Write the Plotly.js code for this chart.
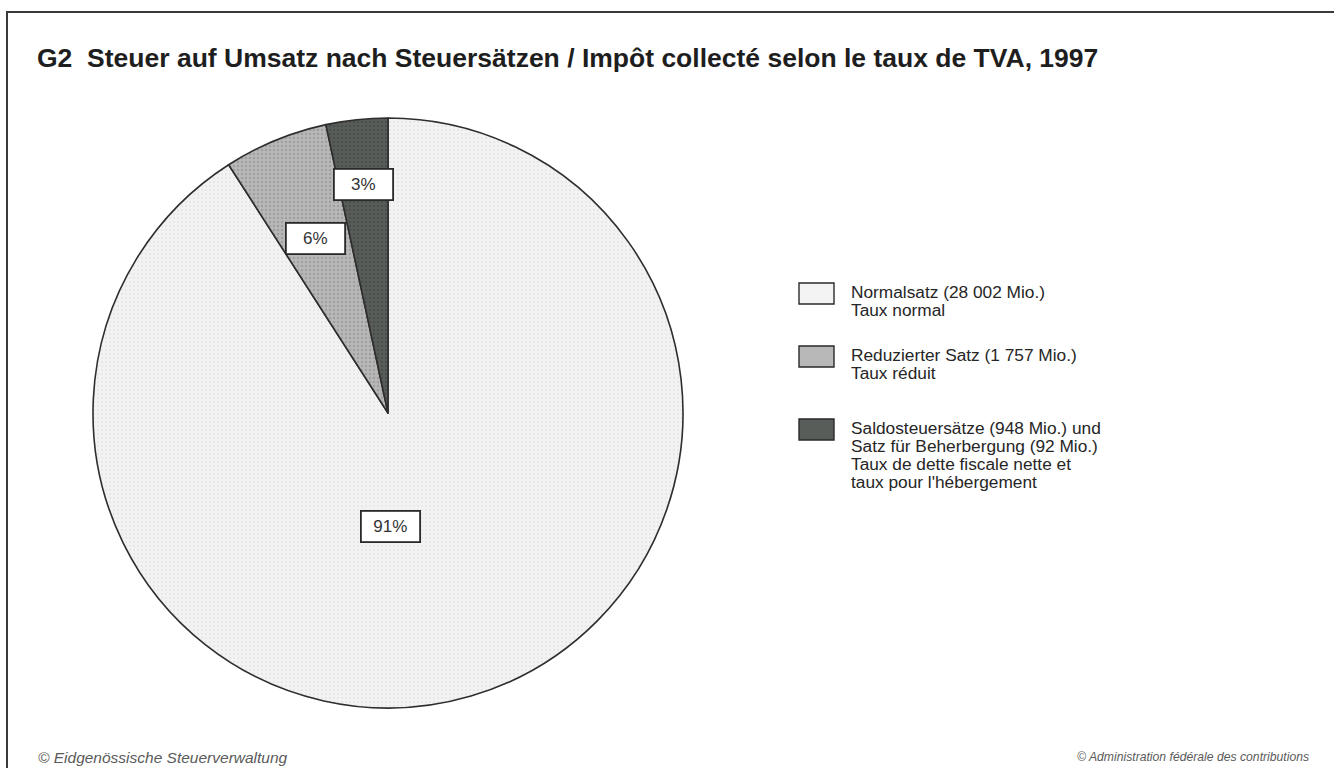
<!DOCTYPE html>
<html>
<head>
<meta charset="utf-8">
<script src="https://cdn.plot.ly/plotly-3.0.1.min.js"></script>
<style>
html,body{margin:0;padding:0;background:#ffffff;}
#chart{width:1334px;height:768px;}
</style>
</head>
<body>
<div id="chart"></div>
<script>
// ---- data ----
const legendLines = [
  ["Normalsatz (28 002 Mio.)", "Taux normal"],
  ["Reduzierter Satz (1 757 Mio.)", "Taux réduit"],
  ["Saldosteuersätze (948 Mio.) und", "Satz für Beherbergung (92 Mio.)", "Taux de dette fiscale nette et", "taux pour l'hébergement"]
];
const normalRate = 28002;
const reducedRate = 1757;
const saldoParts = [948, 92];
const values = [normalRate, reducedRate, saldoParts[0] + saldoParts[1]];
const sliceNames = ["Normalsatz / Taux normal", "Reduzierter Satz / Taux réduit", "Saldosteuersätze und Satz für Beherbergung / Taux de dette fiscale nette et taux pour l'hébergement"];
const titleText = "G2  Steuer auf Umsatz nach Steuersätzen / Impôt collecté selon le taux de TVA, 1997";
const footerLeft = "© Eidgenössische Steuerverwaltung";
const footerRight = "© Administration fédérale des contributions";

// ---- styles ----
const W = 1334, H = 768;
const fills = ["#f3f3f3", "#b8b8b8", "#595d59"];
const patternFg = ["#dcdcdc", "#858585", "#3c403c"];
const pieBox = {x0: 93, x1: 683, y0: 116, y1: 710};   // pixels
const labelRadiusFrac = [0.385, 0.64, 0.78];
const labelAngleShiftDeg = [15, 0, 0];
const legendRowTop = [283, 346, 419];
const FONT = "Liberation Sans, Arial, sans-serif";

const px = x => x / W;
const py = y => 1 - y / H;

const total = values.reduce((a, b) => a + b, 0);
const pctText = values.map(v => Math.round(v / total * 100) + "%");

const trace = {
  type: "pie",
  values: values,
  labels: sliceNames,
  sort: false,
  direction: "clockwise",
  rotation: 0,
  textinfo: "none",
  hoverinfo: "label+value+percent",
  showlegend: false,
  domain: {x: [px(pieBox.x0), px(pieBox.x1)], y: [py(pieBox.y1), py(pieBox.y0)]},
  marker: {
    colors: fills,
    line: {color: "#2e2e2e", width: 1.6},
    pattern: {shape: ".", fgcolor: patternFg, bgcolor: fills, size: 4, solidity: 0.3, fillmode: "overlay"}
  }
};

// label annotations computed from slice angles
const cx = (pieBox.x0 + pieBox.x1) / 2, cy = (pieBox.y0 + pieBox.y1) / 2;
const R = Math.min(pieBox.x1 - pieBox.x0, pieBox.y1 - pieBox.y0) / 2;
const annotations = [];
let cum = 0;
values.forEach((v, i) => {
  const mid = (cum + v / 2) / total * 2 * Math.PI + labelAngleShiftDeg[i] * Math.PI / 180;
  cum += v;
  const r = R * labelRadiusFrac[i];
  annotations.push({
    xref: "paper", yref: "paper",
    x: px(cx + r * Math.sin(mid)), y: py(cy - r * Math.cos(mid)),
    xanchor: "center", yanchor: "middle",
    text: pctText[i], showarrow: false,
    font: {family: FONT, size: 17, color: "#333"},
    bgcolor: "#ffffff", bordercolor: "#2a2a2a", borderwidth: 1.8, borderpad: 1.5,
    width: 54, height: 26
  });
});

// custom legend
const shapes = [];
const legX = 799, legTextX = 849, lineH = 18;
legendLines.forEach((lines, i) => {
  const t = legendRowTop[i];
  shapes.push({
    type: "rect", xref: "paper", yref: "paper",
    x0: px(legX), x1: px(legX + 35), y0: py(t + 21), y1: py(t),
    fillcolor: fills[i], line: {color: "#2a2a2a", width: 1.4}
  });
  lines.forEach((ln, j) => {
    annotations.push({
      xref: "paper", yref: "paper", x: px(legTextX), y: py(t + 9 + j * lineH),
      xanchor: "left", yanchor: "middle", align: "left", showarrow: false,
      text: ln,
      font: {family: FONT, size: 17.3, color: "#262626"}
    });
  });
});

// frame
shapes.push({
  type: "rect", xref: "paper", yref: "paper",
  x0: px(7), x1: px(W + 20), y0: py(H + 20), y1: py(12),
  line: {color: "#3a3a3a", width: 2}, fillcolor: "rgba(0,0,0,0)", layer: "above"
});

// footers
annotations.push({
  xref: "paper", yref: "paper", x: px(36), y: py(757), xanchor: "left", yanchor: "middle",
  text: footerLeft, showarrow: false,
  font: {family: FONT, size: 15.5, color: "#5a5a5a", style: "italic"}
});
annotations.push({
  xref: "paper", yref: "paper", x: px(1311), y: py(757), xanchor: "right", yanchor: "middle",
  text: footerRight, showarrow: false,
  font: {family: FONT, size: 12.2, color: "#5a5a5a", style: "italic"}
});

const layout = {
  width: W, height: H,
  margin: {l: 0, r: 0, t: 0, b: 0},
  paper_bgcolor: "#ffffff",
  plot_bgcolor: "#ffffff",
  title: {
    text: "<b>" + titleText + "</b>",
    x: px(37), xanchor: "left", y: py(58), yanchor: "middle",
    xref: "paper", yref: "paper",
    font: {family: FONT, size: 26.5, color: "#1e1e1e"}
  },
  showlegend: false,
  shapes: shapes,
  annotations: annotations
};

Plotly.newPlot("chart", [trace], layout, {displayModeBar: false, staticPlot: true});
</script>
</body>
</html>
